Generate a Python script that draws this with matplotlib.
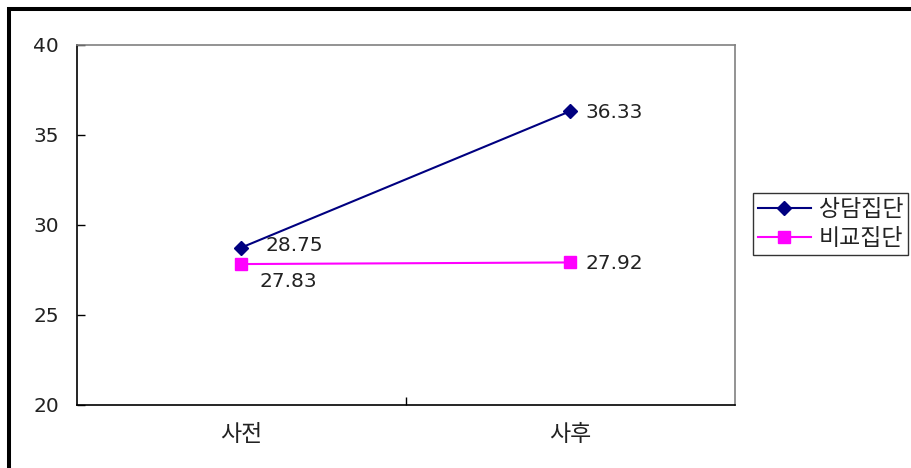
import matplotlib.pyplot as plt
from matplotlib.patches import Rectangle

plt.rcParams['font.family'] = ['DejaVu Sans', 'Noto Sans CJK KR']

# data
categories = ['사전', '사후']
series_names = ['상담집단', '비교집단']
counsel = [28.75, 36.33]
compare = [27.83, 27.92]

W, H = 912, 468
fig = plt.figure(figsize=(W / 100, H / 100), dpi=100)

# outer frame (runs off the right and bottom edges)
fig.patches.append(Rectangle((9.5 / W, -0.1), 1.2, 1.1 - 9.5 / H, transform=fig.transFigure,
                             fill=False, edgecolor='black', linewidth=2.9, zorder=0))

ax = fig.add_axes([77 / W, 63 / H, 658 / W, 360 / H])
x = [0.5, 1.5]

l1, = ax.plot(x, counsel, color='#000080', marker='D', markersize=7, linewidth=1.5,
              label=series_names[0], clip_on=False, zorder=3)
l2, = ax.plot(x, compare, color='#FF00FF', marker='s', markersize=9, linewidth=1.5,
              label=series_names[1], clip_on=False, zorder=3)

ax.set_xlim(0, 2)
ax.set_ylim(20, 40)
ax.set_yticks([20, 25, 30, 35, 40])
ax.tick_params(axis='y', direction='in', length=6, width=1, labelsize=14.5, pad=13,
               labelcolor='#222222')
ax.set_xticks([1])
ax.set_xticklabels([''])
ax.tick_params(axis='x', direction='in', length=6, width=1)
ax.set_xticks(x, minor=True)
ax.set_xticklabels(categories, minor=True)
ax.tick_params(axis='x', which='minor', length=0, labelsize=16.5, pad=13, labelcolor='#222222')

for s in ['top', 'right']:
    ax.spines[s].set_color('#808080')
    ax.spines[s].set_linewidth(1.2)
for s in ['left', 'bottom']:
    ax.spines[s].set_color('black')
    ax.spines[s].set_linewidth(1.2)

# data labels
lab = dict(textcoords='offset pixels', ha='left', va='center', fontsize=14.5, color='#222222')
ax.annotate(f'{counsel[0]:.2f}', (x[0], counsel[0]), xytext=(24, 2), **lab)
ax.annotate(f'{compare[0]:.2f}', (x[0], compare[0]), xytext=(18, -17), **lab)
ax.annotate(f'{counsel[1]:.2f}', (x[1], counsel[1]), xytext=(15, -1), **lab)
ax.annotate(f'{compare[1]:.2f}', (x[1], compare[1]), xytext=(15, -1), **lab)

leg = fig.legend(handles=[l1, l2], loc='upper left', bbox_to_anchor=(753 / W, 1 - 193 / H),
                 fontsize=16.5, frameon=True, fancybox=False, handlelength=2.3,
                 handletextpad=0.35, borderpad=0.22, labelspacing=0.25, borderaxespad=0)
leg.get_frame().set_edgecolor('black')
leg.get_frame().set_linewidth(1.0)
for t in leg.get_texts():
    t.set_color('#222222')

fig.savefig('out.png', dpi=100)
